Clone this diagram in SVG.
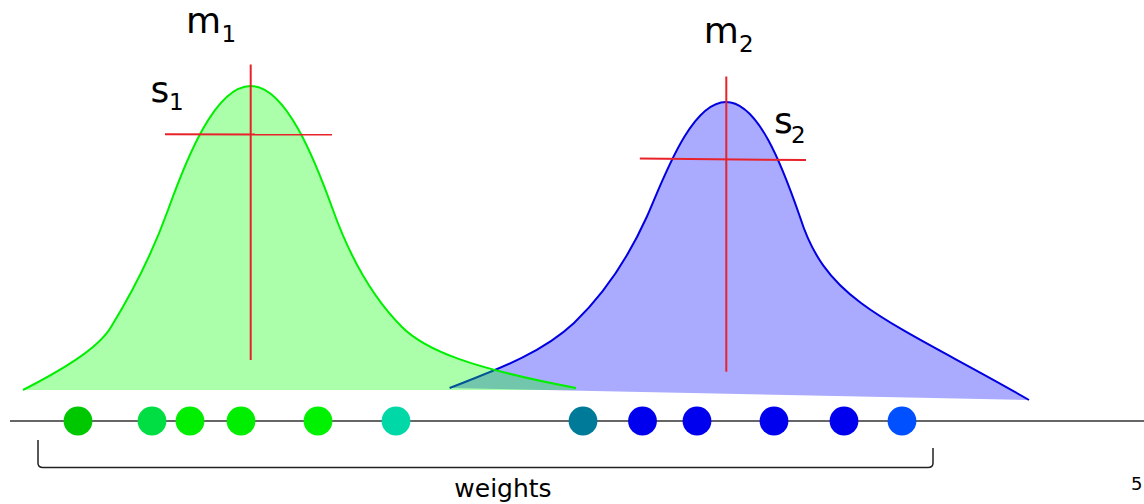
<svg xmlns="http://www.w3.org/2000/svg" width="1144" height="504" viewBox="0 0 1144 504">
  <style>
    .lbl { font-family: "DejaVu Sans", "Liberation Sans", sans-serif; fill: #000; }
    .big { font-size: 36px; }
    .sub { font-size: 23px; }
    .red { stroke: #e8222a; stroke-width: 2; fill: none; }
    .dot { stroke: none; }
  </style>
  <rect width="1144" height="504" fill="#ffffff"/>

  <g id="distribution-2">
    <path d="M449.6,388 C490,372 540,355 574,323 C600,298 625,265 646.7,217 C662,183 690,102 726,102 C758,102 782,165 800,217 C812,255 830,280 861,303 C900,332 960,360 1029,400 Z" fill="#aaaaff" stroke="none"/>
    <path d="M449.6,388 C490,372 540,355 574,323 C600,298 625,265 646.7,217 C662,183 690,102 726,102 C758,102 782,165 800,217 C812,255 830,280 861,303 C900,332 960,360 1029,400" fill="none" stroke="#0000e0" stroke-width="2"/>
  </g>

  <g id="distribution-1">
    <path d="M23,390 C60,371 98,349 111,327 C127,301 150,260 168,210 C186,160 215,86 250.7,86 C286,86 315,160 333,210 C351,260 375,300 402,327 C425,350 470,368 576,388 L576,390 Z" fill="#00ff00" fill-opacity="0.33" stroke="none"/>
    <path d="M23,390 C60,371 98,349 111,327 C127,301 150,260 168,210 C186,160 215,86 250.7,86 C286,86 315,160 333,210 C351,260 375,300 402,327 C425,350 470,368 576,388" fill="none" stroke="#00ee00" stroke-width="2"/>
  </g>

  <g id="markers">
    <line class="red" x1="250.7" y1="64.5" x2="250.7" y2="360"/>
    <line class="red" x1="165" y1="134.3" x2="332" y2="134.5"/>
    <line class="red" x1="726.3" y1="76.5" x2="726.3" y2="371.7"/>
    <line class="red" x1="639.8" y1="158.6" x2="806" y2="160"/>
  </g>

  <g id="labels">
    <text class="lbl big" x="186" y="33">m</text>
    <text class="lbl sub" x="221.5" y="42">1</text>
    <text class="lbl big" x="150.5" y="102">s</text>
    <text class="lbl sub" x="169" y="110">1</text>
    <text class="lbl big" x="703.7" y="42.7">m</text>
    <text class="lbl sub" x="739" y="51.7">2</text>
    <text class="lbl big" x="774" y="132.7">s</text>
    <text class="lbl sub" x="791" y="142.7">2</text>
  </g>

  <g id="connectors">
    <line id="axis" x1="10" y1="421" x2="1144" y2="421" stroke="#333333" stroke-width="1.6"/>
    <path id="bracket" d="M38,440 L38,463 Q38,467.5 43,467.5 L928,467.5 Q933,467.5 933,463 L933,448" fill="none" stroke="#222222" stroke-width="1.5"/>
  </g>

  <g id="weights">
    <circle class="dot" cx="78" cy="421" r="14.4" fill="#00c800"/>
    <circle class="dot" cx="152" cy="421" r="14.4" fill="#00de44"/>
    <circle class="dot" cx="190" cy="421" r="14.4" fill="#00ee00"/>
    <circle class="dot" cx="241" cy="421" r="14.4" fill="#00ee00"/>
    <circle class="dot" cx="318" cy="421" r="14.4" fill="#00f200"/>
    <circle class="dot" cx="396" cy="421" r="14.4" fill="#00d8a8"/>
    <circle class="dot" cx="583" cy="421" r="14.4" fill="#007a99"/>
    <circle class="dot" cx="642.5" cy="421" r="14.4" fill="#0000ee"/>
    <circle class="dot" cx="697" cy="421" r="14.4" fill="#0000ee"/>
    <circle class="dot" cx="774" cy="421" r="14.4" fill="#0000ee"/>
    <circle class="dot" cx="844" cy="421" r="14.4" fill="#0000ee"/>
    <circle class="dot" cx="902" cy="421" r="14.4" fill="#0050ff"/>
  </g>

  <g id="caption">
    <text class="lbl" x="503" y="497" font-size="25" text-anchor="middle">weights</text>
    <text class="lbl" x="1131" y="490" font-size="18">5</text>
  </g>
</svg>
